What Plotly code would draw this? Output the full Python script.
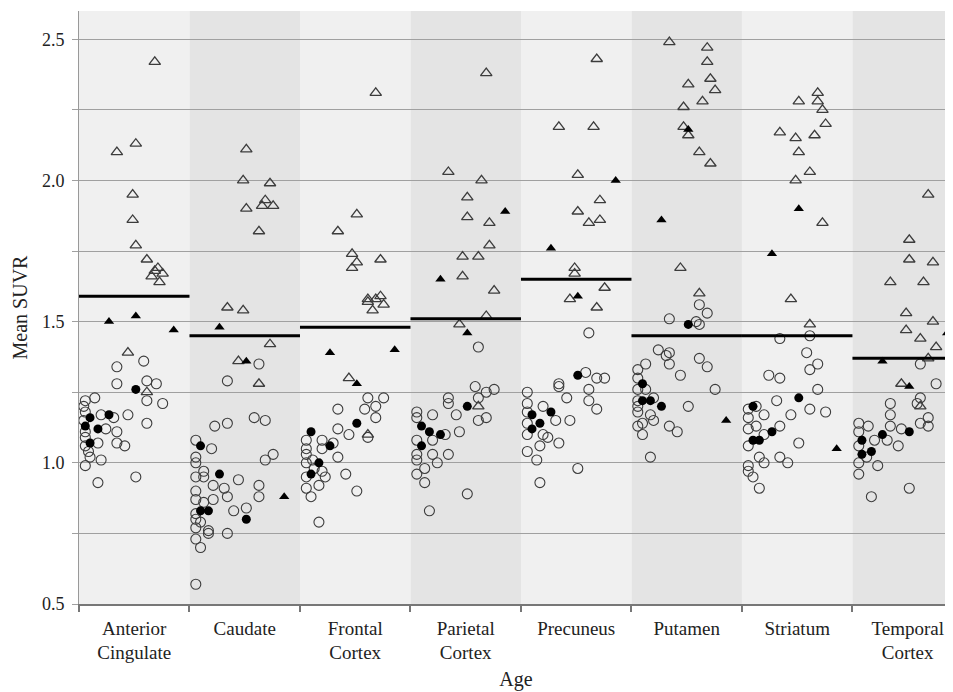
import plotly.graph_objects as go

# ---------------- data ----------------
regions = ["Anterior<br>Cingulate", "Caudate", "Frontal<br>Cortex", "Parietal<br>Cortex",
           "Precuneus", "Putamen", "Striatum", "Temporal<br>Cortex"]
thresholds = [1.59, 1.45, 1.48, 1.51, 1.65, 1.45, 1.45, 1.37]
y_ticks = [0.5, 1.0, 1.5, 2.0, 2.5]
y_tick_labels = ["0.5", "1.0", "1.5", "2.0", "2.5"]

# (age, mean SUVR) pairs per region; oc=open circle, fc=filled circle,
# ot=open triangle, ft=filled triangle
ac_oc = [(61, 1.36), (44, 1.34), (44, 1.28), (63, 1.29), (69, 1.28), (63, 1.22), (73, 1.21), (30, 1.23),
         (24, 1.22), (24, 1.18), (34, 1.17), (42, 1.16), (51, 1.17), (37, 1.12), (44, 1.11), (63, 1.14),
         (24, 1.11), (32, 1.07), (44, 1.07), (49, 1.06), (24, 1.06), (27, 1.02), (34, 1.01), (24, 0.99),
         (32, 0.93), (56, 0.95), (23, 1.20), (23, 1.15), (24, 1.09), (26, 1.04)]
ac_fc = [(56, 1.26), (27, 1.16), (39, 1.17), (32, 1.12), (24, 1.13), (27, 1.07)]
ac_ot = [(68, 2.42), (56, 2.13), (44, 2.10), (54, 1.95), (54, 1.86), (56, 1.77), (63, 1.72), (70, 1.69),
         (68, 1.68), (66, 1.66), (71, 1.64), (73, 1.67), (51, 1.39), (63, 1.25)]
ac_ft = [(39, 1.50), (56, 1.52), (80, 1.47)]

ca_oc = [(64, 1.35), (44, 1.29), (61, 1.16), (68, 1.15), (36, 1.13), (44, 1.14), (24, 1.08), (34, 1.05),
         (73, 1.03), (68, 1.01), (24, 1.02), (24, 1.00), (29, 0.97), (24, 0.95), (29, 0.95), (51, 0.94),
         (64, 0.92), (35, 0.92), (42, 0.91), (24, 0.90), (44, 0.88), (64, 0.88), (35, 0.87), (24, 0.87),
         (29, 0.86), (56, 0.84), (48, 0.83), (24, 0.82), (24, 0.80), (27, 0.79), (24, 0.77), (32, 0.76),
         (32, 0.75), (44, 0.75), (24, 0.73), (27, 0.70), (24, 0.57)]
ca_fc = [(27, 1.06), (39, 0.96), (27, 0.83), (32, 0.83), (56, 0.80)]
ca_ot = [(56, 2.11), (54, 2.00), (71, 1.99), (68, 1.93), (66, 1.91), (73, 1.91), (56, 1.90), (64, 1.82),
         (44, 1.55), (54, 1.54), (71, 1.42), (51, 1.36), (64, 1.28)]
ca_ft = [(39, 1.48), (56, 1.36), (80, 0.88)]

fr_oc = [(63, 1.23), (73, 1.23), (68, 1.20), (61, 1.19), (44, 1.19), (68, 1.16), (44, 1.12), (51, 1.10),
         (63, 1.09), (41, 1.07), (34, 1.08), (34, 1.05), (24, 1.08), (24, 1.05), (24, 1.03), (44, 1.02),
         (24, 1.00), (34, 0.97), (36, 0.95), (49, 0.96), (24, 0.95), (32, 0.92), (24, 0.91), (27, 0.88),
         (56, 0.90), (32, 0.79), (28, 1.01), (29, 0.98)]
fr_fc = [(27, 1.11), (56, 1.14), (39, 1.06), (32, 1.00), (27, 0.96)]
fr_ot = [(68, 2.31), (56, 1.88), (44, 1.82), (53, 1.74), (71, 1.72), (56, 1.71), (53, 1.69), (63, 1.58),
         (68, 1.58), (71, 1.59), (66, 1.54), (73, 1.56), (63, 1.57), (51, 1.30), (63, 1.10)]
fr_ft = [(39, 1.39), (80, 1.40), (56, 1.28)]

pa_oc = [(63, 1.41), (61, 1.27), (73, 1.26), (68, 1.25), (63, 1.23), (44, 1.23), (44, 1.21), (68, 1.16),
         (63, 1.15), (34, 1.17), (49, 1.17), (24, 1.18), (24, 1.16), (51, 1.11), (42, 1.10), (24, 1.08),
         (34, 1.08), (34, 1.03), (44, 1.03), (37, 1.00), (24, 1.03), (29, 0.98), (24, 0.96), (29, 0.93),
         (56, 0.89), (32, 0.83), (24, 1.01)]
pa_fc = [(56, 1.20), (27, 1.13), (32, 1.11), (39, 1.10), (27, 1.06)]
pa_ot = [(68, 2.38), (44, 2.03), (65, 2.00), (56, 1.94), (56, 1.87), (70, 1.85), (70, 1.77), (53, 1.73),
         (63, 1.73), (53, 1.66), (73, 1.61), (68, 1.52), (51, 1.49), (63, 1.20)]
pa_ft = [(80, 1.89), (39, 1.65), (56, 1.46)]

pr_oc = [(63, 1.46), (61, 1.32), (68, 1.30), (73, 1.30), (44, 1.28), (44, 1.27), (63, 1.26), (24, 1.25),
         (49, 1.23), (63, 1.22), (68, 1.19), (34, 1.20), (24, 1.21), (24, 1.18), (51, 1.15), (42, 1.15),
         (24, 1.14), (24, 1.10), (34, 1.10), (37, 1.09), (32, 1.06), (44, 1.07), (24, 1.04), (30, 1.01),
         (56, 0.98), (32, 0.93)]
pr_fc = [(56, 1.31), (39, 1.18), (27, 1.17), (32, 1.14), (27, 1.12)]
pr_ot = [(68, 2.43), (44, 2.19), (66, 2.19), (56, 2.02), (70, 1.93), (56, 1.89), (70, 1.86), (63, 1.85),
         (54, 1.69), (54, 1.67), (73, 1.62), (51, 1.58), (68, 1.55)]
pr_ft = [(80, 2.00), (39, 1.76), (56, 1.59)]

pu_oc = [(63, 1.56), (68, 1.53), (44, 1.51), (61, 1.50), (63, 1.49), (37, 1.40), (42, 1.38), (44, 1.39),
         (44, 1.35), (29, 1.35), (63, 1.37), (68, 1.34), (51, 1.31), (24, 1.33), (24, 1.30), (24, 1.26),
         (73, 1.26), (29, 1.26), (34, 1.23), (24, 1.22), (24, 1.20), (56, 1.20), (24, 1.18), (32, 1.17),
         (34, 1.15), (24, 1.13), (27, 1.14), (44, 1.13), (49, 1.11), (27, 1.10), (32, 1.02)]
pu_fc = [(56, 1.49), (27, 1.28), (27, 1.22), (32, 1.22), (39, 1.20)]
pu_ot = [(44, 2.49), (68, 2.47), (68, 2.42), (70, 2.36), (56, 2.34), (73, 2.32), (65, 2.28), (53, 2.26),
         (53, 2.19), (56, 2.16), (63, 2.10), (70, 2.06), (51, 1.69), (63, 1.60)]
pu_ft = [(56, 2.18), (39, 1.86), (80, 1.15)]

st_oc = [(44, 1.44), (63, 1.45), (61, 1.39), (68, 1.35), (63, 1.33), (37, 1.31), (44, 1.30), (68, 1.26),
         (42, 1.22), (63, 1.19), (73, 1.18), (51, 1.17), (34, 1.17), (29, 1.20), (24, 1.19), (24, 1.16),
         (44, 1.13), (29, 1.13), (24, 1.12), (34, 1.10), (56, 1.07), (24, 1.06), (44, 1.02), (49, 1.00),
         (31, 1.02), (34, 1.00), (24, 0.99), (24, 0.97), (27, 0.95), (31, 0.91)]
st_fc = [(56, 1.23), (27, 1.20), (39, 1.11), (31, 1.08), (27, 1.08)]
st_ot = [(68, 2.31), (56, 2.28), (68, 2.28), (71, 2.25), (73, 2.20), (44, 2.17), (54, 2.15), (66, 2.16),
         (56, 2.10), (63, 2.03), (54, 2.00), (71, 1.85), (51, 1.58), (63, 1.49)]
st_ft = [(56, 1.90), (39, 1.74), (80, 1.05)]

te_oc = [(63, 1.35), (73, 1.28), (63, 1.23), (61, 1.21), (44, 1.21), (44, 1.17), (68, 1.16), (68, 1.13),
         (63, 1.14), (44, 1.13), (51, 1.12), (24, 1.14), (30, 1.13), (24, 1.11), (34, 1.08), (42, 1.08),
         (49, 1.06), (24, 1.06), (24, 1.00), (36, 0.99), (24, 0.96), (56, 0.91), (32, 0.88), (29, 1.02)]
te_fc = [(56, 1.11), (39, 1.10), (26, 1.08), (32, 1.04), (26, 1.03)]
te_ot = [(68, 1.95), (56, 1.79), (56, 1.72), (71, 1.71), (44, 1.64), (65, 1.64), (54, 1.53), (71, 1.50),
         (54, 1.47), (63, 1.44), (73, 1.41), (68, 1.37), (51, 1.28), (63, 1.20)]
te_ft = [(80, 1.46), (39, 1.36), (56, 1.27)]

open_circles = [ac_oc, ca_oc, fr_oc, pa_oc, pr_oc, pu_oc, st_oc, te_oc]
filled_circles = [ac_fc, ca_fc, fr_fc, pa_fc, pr_fc, pu_fc, st_fc, te_fc]
open_triangles = [ac_ot, ca_ot, fr_ot, pa_ot, pr_ot, pu_ot, st_ot, te_ot]
filled_triangles = [ac_ft, ca_ft, fr_ft, pa_ft, pr_ft, pu_ft, st_ft, te_ft]

# ---------------- layout helpers ----------------
AGE_MIN, AGE_SPAN = 20, 70          # age range covered by each panel
n = len(regions)
x_max = (n - 1) * AGE_SPAN + 63.7   # last panel is cut at the image edge

def to_x(i, age):
    return i * AGE_SPAN + (age - AGE_MIN)

FONT = "Liberation Serif, Times New Roman, serif"
fig = go.Figure()

styles = [
    (open_circles, dict(symbol="circle-open", size=10, color="#3c3c3c", line=dict(width=1.1, color="#3c3c3c"))),
    (filled_circles, dict(symbol="circle", size=9, color="black", line=dict(width=0))),
    (open_triangles, dict(symbol="triangle-up-open", size=10, color="#3c3c3c", line=dict(width=1.3, color="#3c3c3c"))),
    (filled_triangles, dict(symbol="triangle-up", size=9, color="black", line=dict(width=0))),
]
for groups, mk in styles:
    xs, ys = [], []
    for i, pts in enumerate(groups):
        for age, v in pts:
            xs.append(to_x(i, age))
            ys.append(v)
    fig.add_trace(go.Scatter(x=xs, y=ys, mode="markers", marker=mk, showlegend=False, hoverinfo="skip"))

# threshold lines
for i, t in enumerate(thresholds):
    x0 = i * AGE_SPAN
    x1 = min((i + 1) * AGE_SPAN, x_max)
    fig.add_trace(go.Scatter(x=[x0, x1], y=[t, t], mode="lines",
                             line=dict(color="black", width=3), showlegend=False, hoverinfo="skip"))

# alternating panel backgrounds
shapes = []
for i in range(n):
    shapes.append(dict(type="rect", xref="x", yref="paper", x0=i * AGE_SPAN,
                       x1=min((i + 1) * AGE_SPAN, x_max), y0=0, y1=1, layer="below",
                       line=dict(width=0), fillcolor="#f0f0f0" if i % 2 == 0 else "#e4e4e4"))

centers = [i * AGE_SPAN + AGE_SPAN / 2 for i in range(n)]
boundaries = [i * AGE_SPAN for i in range(n)]

fig.update_layout(
    width=945, height=684,
    margin=dict(l=71, r=0, t=3, b=88),
    paper_bgcolor="white", plot_bgcolor="white",
    shapes=shapes,
    font=dict(family=FONT, size=19, color="#222"),
    xaxis=dict(range=[0, x_max], tickmode="array", tickvals=centers, ticktext=regions,
               ticks="", showgrid=False, zeroline=False, showline=True, linecolor="#777", linewidth=1.5,
               ticklabelstandoff=6,
               minor=dict(tickmode="array", tickvals=boundaries, ticks="outside", ticklen=6,
                          tickcolor="#777", tickwidth=1.5, showgrid=False),
               title=dict(text="Age", font=dict(family=FONT, size=20), standoff=10),
               tickfont=dict(family=FONT, size=19, color="#222")),
    yaxis=dict(range=[0.5, 2.6], tickmode="array", tickvals=y_ticks, ticktext=y_tick_labels,
               ticks="outside", ticklen=6, tickcolor="#a0a0a0", tickwidth=1.3,
               showline=True, linecolor="#999", linewidth=1, zeroline=False,
               showgrid=True, gridcolor="#a0a0a0", gridwidth=1.3,
               minor=dict(dtick=0.25, tick0=0.5, ticks="outside", ticklen=6, tickcolor="#a0a0a0",
                          showgrid=True, gridcolor="#a0a0a0", gridwidth=1.3),
               title=dict(text="Mean SUVR", font=dict(family=FONT, size=20), standoff=8),
               ticklabelstandoff=4,
               tickfont=dict(family=FONT, size=18, color="#222")),
)

fig.write_html("out.html")
